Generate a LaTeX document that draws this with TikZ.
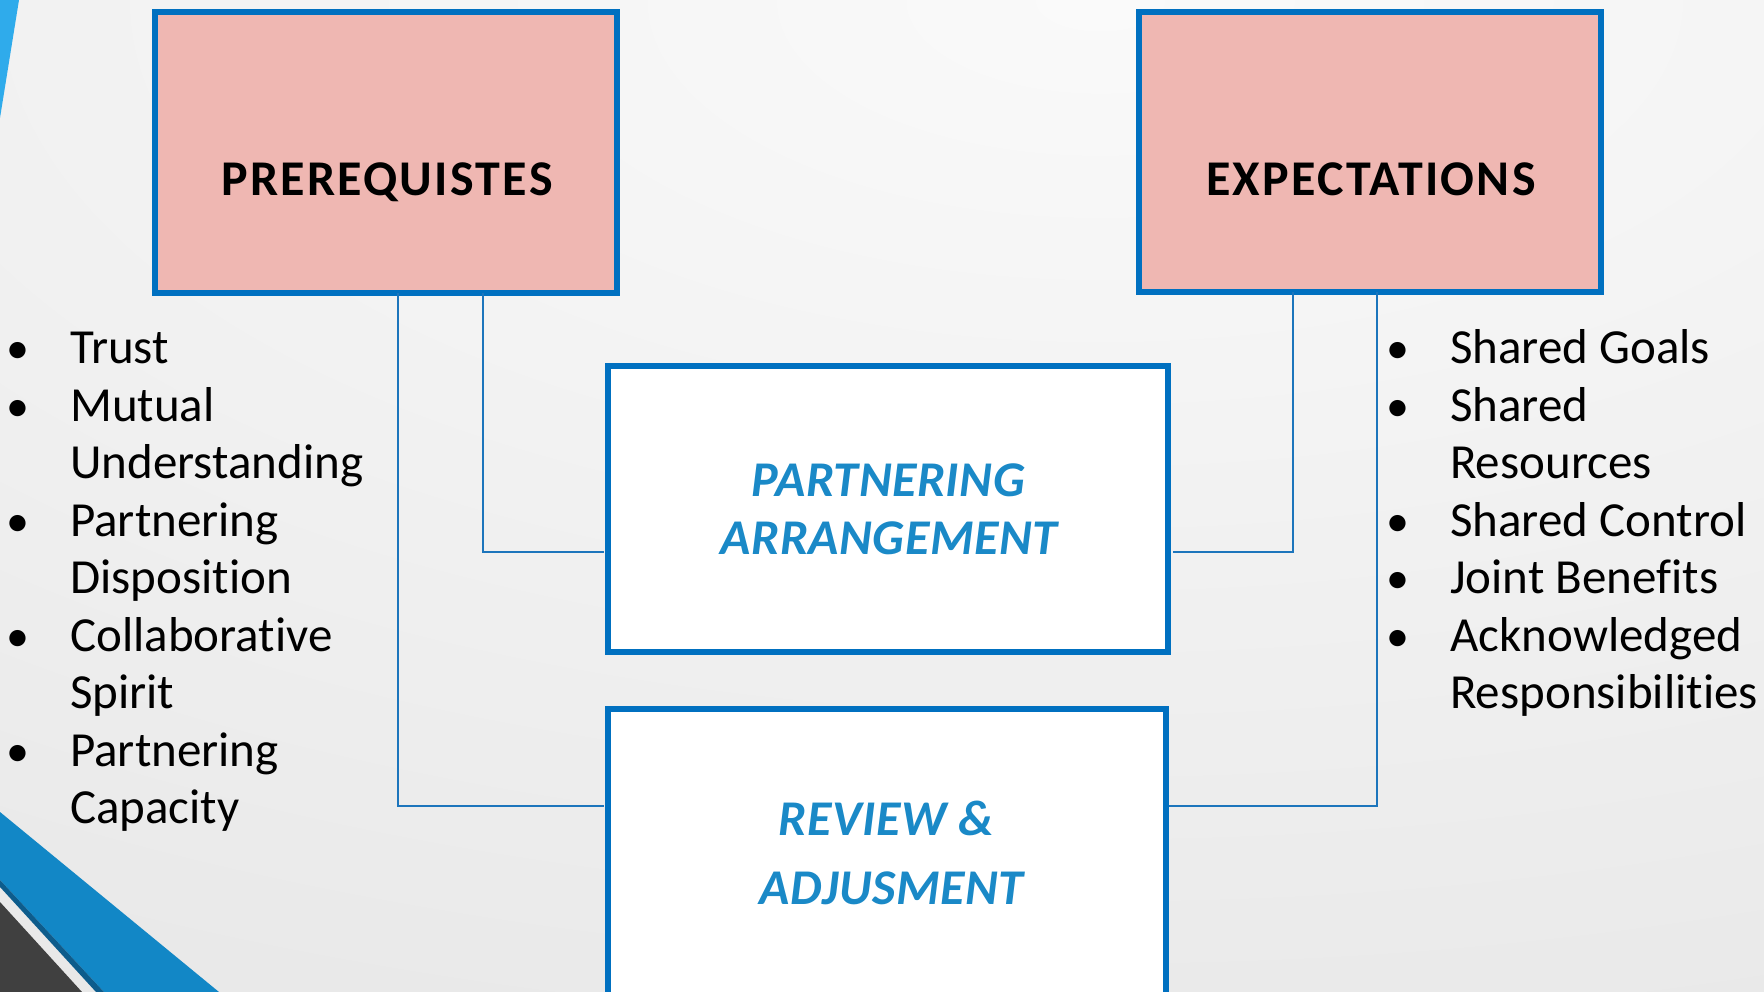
\documentclass[tikz,border=0pt]{standalone}
\usepackage{fontspec}
\setmainfont{Carlito}[Ligatures=NoCommon]
\definecolor{boxblue}{HTML}{0070C0}
\definecolor{pinkfill}{HTML}{EFB7B2}
\definecolor{midtext}{HTML}{1A89C7}
\definecolor{connblue}{HTML}{1C75BC}
\definecolor{bgin}{HTML}{FAFAFA}
\definecolor{bgout}{HTML}{D2D2D2}
\definecolor{sliver}{HTML}{2FABEB}
\definecolor{bandblue}{HTML}{1287C6}
\definecolor{banddark}{HTML}{0D5C8C}
\definecolor{darkgray}{HTML}{404040}
\tikzset{
  headbox/.style={draw=boxblue, line width=6pt, fill=pinkfill, rectangle, inner sep=0pt, outer sep=0pt},
  midbox/.style={draw=boxblue, line width=6pt, fill=white, rectangle, inner sep=0pt, outer sep=0pt},
  headtxt/.style={anchor=base, inner sep=0pt, font=\fontsize{50}{60}\selectfont\bfseries\addfontfeature{LetterSpace=4.5}},
  midtxt/.style={anchor=base, inner sep=0pt, text=midtext, font=\fontsize{50}{60}\selectfont\bfseries\itshape\addfontfeature{LetterSpace=1}},
  listtxt/.style={anchor=base west, inner sep=0pt, font=\fontsize{49}{60}\selectfont},
  bullettxt/.style={anchor=base, inner sep=0pt, font=\fontsize{46}{60}\selectfont},
  conn/.style={draw=connblue, line width=1.5pt},
}
\begin{document}
\begin{tikzpicture}[x=1pt,y=-1pt]
\useasboundingbox (0,0) rectangle (1764,992);
\begin{scope}
\clip (0,0) rectangle (1764,992);
\shade[inner color=bgin, outer color=bgout] (1100,0) ellipse [x radius=5176pt, y radius=2485pt];
% decorations
\fill[sliver] (0,0) -- (19,0) -- (0,118) -- cycle;
\fill[bandblue] (0,812) -- (219,992) -- (104,992) -- (0,880) -- cycle;
\fill[banddark] (0,880) -- (104,992) -- (96,992) -- (0,887) -- cycle;
\fill[darkgray] (0,902) -- (82,992) -- (0,992) -- cycle;

% boxes
\node[headbox, minimum width=462pt, minimum height=281pt] (pre) at (386,152.5) {};
\node[headbox, minimum width=462pt, minimum height=280pt] (exp) at (1370,152) {};
\node[midbox, minimum width=560pt, minimum height=286pt] (part) at (888,509) {};
\node[midbox, minimum width=557.5pt, minimum height=286pt] (rev) at (886.75,852) {};

% connectors
\draw[conn, shorten >=4pt] ([xshift=12pt]pre.south) |- ([yshift=-97pt]rev.north west);
\draw[conn, shorten >=4pt] ([xshift=97pt]pre.south) |- ([yshift=-43pt]part.west);
\draw[conn, shorten >=5pt] ([xshift=-77pt]exp.south) |- ([yshift=-43pt]part.east);
\draw[conn, shorten >=3.5pt] ([xshift=7pt]exp.south) |- ([yshift=-97pt]rev.north east);

% titles
\node[headtxt] (pretxt) at (387,196) {PREREQUISTES};
\node[headtxt] (exptxt) at (1371,196) {EXPECTATIONS};
\node[midtxt] (part1) at (888,496) {PARTNERING};
\node[midtxt] (part2) at (889,554) {ARRANGEMENT};
\node[midtxt] (rev1) at (886,835) {REVIEW \&};
\node[midtxt] (rev2) at (891.5,904) {ADJUSMENT};

% left list
\node[bullettxt] (lb1) at (18,363) {•};
\node[bullettxt] (lb2) at (18,421) {•};
\node[bullettxt] (lb3) at (18,536) {•};
\node[bullettxt] (lb4) at (18,651) {•};
\node[bullettxt] (lb5) at (18,766) {•};
\node[listtxt] (l1) at (70,363) {Trust};
\node[listtxt] (l2) at (70,421) {Mutual};
\node[listtxt] (l3) at (70,478) {Understanding};
\node[listtxt] (l4) at (70,536) {Partnering};
\node[listtxt] (l5) at (70,593) {Disposition};
\node[listtxt] (l6) at (70,651) {Collaborative};
\node[listtxt] (l7) at (70,708) {Spirit};
\node[listtxt] (l8) at (70,766) {Partnering};
\node[listtxt] (l9) at (70,823) {Capacity};

% right list
\node[bullettxt] (rb1) at (1398,363) {•};
\node[bullettxt] (rb2) at (1398,421) {•};
\node[bullettxt] (rb3) at (1398,536) {•};
\node[bullettxt] (rb4) at (1398,593) {•};
\node[bullettxt] (rb5) at (1398,651) {•};
\node[listtxt] (r1) at (1450,363) {Shared Goals};
\node[listtxt] (r2) at (1450,421) {Shared};
\node[listtxt] (r3) at (1450,478) {Resources};
\node[listtxt] (r4) at (1450,536) {Shared Control};
\node[listtxt] (r5) at (1450,593) {Joint Benefits};
\node[listtxt] (r6) at (1450,651) {Acknowledged};
\node[listtxt] (r7) at (1450,708) {Responsibilities};
\end{scope}
\end{tikzpicture}
\end{document}
